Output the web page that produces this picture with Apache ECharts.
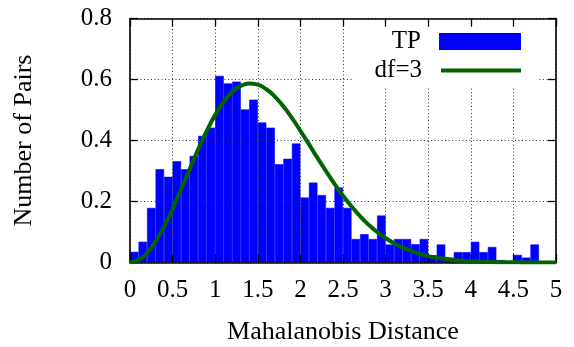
<!DOCTYPE html>
<html>
<head>
<meta charset="utf-8">
<script src="https://cdn.jsdelivr.net/npm/echarts@6/dist/echarts.min.js"></script>
<style>html,body{margin:0;padding:0;background:#fff}#c{width:574px;height:347px}</style>
</head>
<body>
<div id="c"></div>
<script>
// Histogram bins (width 0.1, from 0 to 5) — labels are bin centres
const binCenters = ["0.05","0.15","0.25","0.35","0.45","0.55","0.65","0.75","0.85","0.95",
  "1.05","1.15","1.25","1.35","1.45","1.55","1.65","1.75","1.85","1.95",
  "2.05","2.15","2.25","2.35","2.45","2.55","2.65","2.75","2.85","2.95",
  "3.05","3.15","3.25","3.35","3.45","3.55","3.65","3.75","3.85","3.95",
  "4.05","4.15","4.25","4.35","4.45","4.55","4.65","4.75","4.85","4.95"];
const tpValues = [0.035,0.068,0.179,0.306,0.281,0.332,0.306,0.349,0.415,0.442,
  0.612,0.587,0.593,0.502,0.534,0.459,0.442,0.322,0.340,0.390,
  0.213,0.262,0.221,0.179,0.246,0.179,0.077,0.093,0.077,0.154,
  0.059,0.077,0.077,0.060,0.077,0.024,0.059,0.016,0.034,0.034,
  0.068,0.034,0.051,0.008,0,0.025,0.016,0.059,0,0];
// df=3 curve
const curveX = [0,0.1,0.2,0.3,0.4,0.5,0.6,0.7,0.8,0.9,1.0,1.1,1.2,1.3,1.4,1.5,1.6,1.7,1.8,1.9,
  2.0,2.1,2.2,2.3,2.4,2.5,2.6,2.7,2.8,2.9,3.0,3.1,3.2,3.3,3.4,3.5,3.6,3.7,3.8,3.9,
  4.0,4.1,4.2,4.3,4.4,4.5,4.6,4.7,4.8,4.9,5.0];
const curveY = [0,0.008,0.031,0.069,0.118,0.176,0.240,0.306,0.371,0.431,0.484,0.527,0.559,0.579,0.587,0.583,0.568,0.544,0.512,0.474,
  0.432,0.388,0.343,0.300,0.258,0.219,0.184,0.152,0.124,0.100,0.080,0.063,0.049,0.038,0.028,0.021,0.016,0.012,0.008,0.006,
  0.004,0.003,0.002,0.001,0.001,0.001,0,0,0,0,0];
const xTicks = {min:0, max:5, interval:0.5};
const yTicks = {min:0, max:0.8, interval:0.2};
const seriesNames = ["TP","df=3"];
const xName = "Mahalanobis Distance";
const yName = "Number of Pairs";

const FONT = "Liberation Serif";
const chart = echarts.init(document.getElementById('c'));
const dotted = {show:true, lineStyle:{color:'#333', width:1, type:[1,2.5]}};
const frame = {show:true, onZero:false, lineStyle:{color:'#000', width:1.6}};
const tick = {show:true, inside:true, length:8, lineStyle:{color:'#000', width:1.3}};
chart.setOption({
  animation:false,
  backgroundColor:'#fff',
  grid:{left:130, right:18, top:18.5, bottom:84.5, containLabel:false, outerBoundsMode:'none'},
  xAxis:[
    {type:'value', min:xTicks.min, max:xTicks.max, interval:xTicks.interval, position:'bottom', z:3,
     axisLine:frame, axisTick:tick, splitLine:dotted,
     axisLabel:{color:'#000', fontFamily:FONT, fontSize:25, margin:15},
     name:xName, nameLocation:'middle', nameGap:57,
     nameTextStyle:{color:'#000', fontFamily:FONT, fontSize:26}},
    {type:'category', data:binCenters, show:false, boundaryGap:true},
    {type:'value', min:xTicks.min, max:xTicks.max, interval:xTicks.interval, position:'top', z:3,
     axisLine:frame, axisTick:tick, splitLine:{show:false}, axisLabel:{show:false}}
  ],
  yAxis:[
    {type:'value', min:yTicks.min, max:yTicks.max, interval:yTicks.interval, position:'left', z:3,
     axisLine:frame, axisTick:tick, splitLine:dotted,
     axisLabel:{color:'#000', fontFamily:FONT, fontSize:25, margin:18},
     name:yName, nameLocation:'middle', nameGap:93, nameRotate:90,
     nameTextStyle:{color:'#000', fontFamily:FONT, fontSize:26}},
    {type:'value', min:yTicks.min, max:yTicks.max, interval:yTicks.interval, position:'right', z:3,
     axisLine:frame, axisTick:tick, splitLine:{show:false}, axisLabel:{show:false}}
  ],
  graphic:[{type:'rect', z:5, shape:{x:352, y:27, width:186, height:59}, style:{fill:'#fff'}}],
  legend:[
    {data:[seriesNames[0]], right:53, top:29, orient:'vertical', align:'right', padding:0, z:10,
     itemWidth:80, itemHeight:15, icon:'rect',
     textStyle:{color:'#000', fontFamily:FONT, fontSize:25, padding:[0,14,0,0]}},
    {data:[seriesNames[1]], right:53, top:58, orient:'vertical', align:'right', padding:0, z:10,
     itemWidth:80, itemHeight:4, icon:'rect',
     textStyle:{color:'#000', fontFamily:FONT, fontSize:25, padding:[0,14,0,0]}}
  ],
  series:[
    {name:seriesNames[0], type:'bar', xAxisIndex:1, yAxisIndex:0, data:tpValues,
     barWidth:'100%', barGap:'0%', itemStyle:{color:'#0000ff', borderColor:'#0000ff', borderWidth:0.6}, z:2},
    {name:seriesNames[1], type:'line', xAxisIndex:0, yAxisIndex:0,
     data:curveX.map((x,i)=>[x,curveY[i]]), smooth:true, showSymbol:false, z:4,
     lineStyle:{color:'#006400', width:4}, itemStyle:{color:'#006400'}}
  ]
});
</script>
</body>
</html>
